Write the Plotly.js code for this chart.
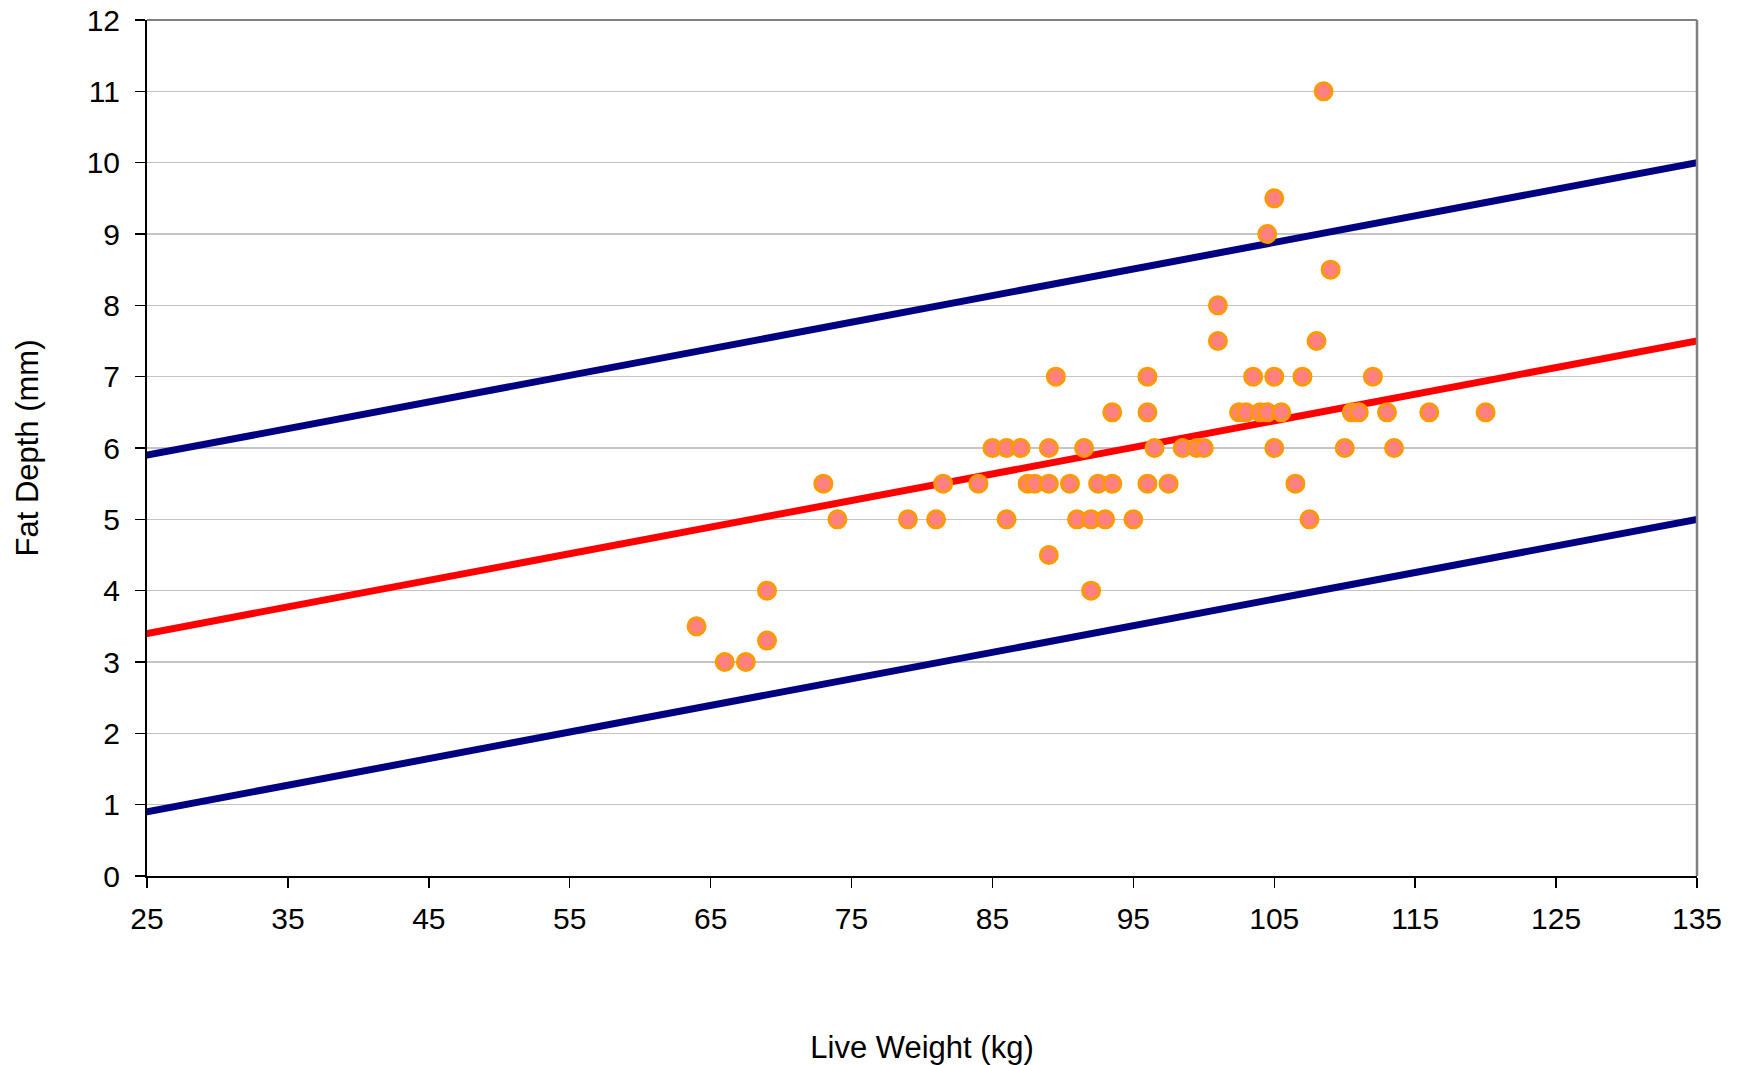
<!DOCTYPE html>
<html>
<head>
<meta charset="utf-8">
<script src="https://cdn.plot.ly/plotly-3.0.1.min.js"></script>
<style>
  html, body { margin: 0; padding: 0; background: #ffffff; }
  #chart { width: 1740px; height: 1065px; }
  .scatterlayer .js-line { stroke-linecap: round; }
</style>
</head>
<body>
<div id="chart"></div>
<script>
// Observed data: live weight (kg) vs fat depth (mm)
const liveWeight = [64, 66, 67.5, 69, 69, 73, 74, 79, 81, 81.5, 84, 85, 86, 87, 86, 87.5, 88, 89, 89, 89,
  89.5, 90.5, 91, 91.5, 92, 92, 92.5, 93, 93.5, 93.5, 95, 96, 96, 96, 96.5, 97.5, 98.5, 99.5, 100,
  101, 101, 102.5, 103, 103.5, 104, 104.5, 104.5, 105, 105, 105, 105.5, 106.5, 107, 107.5, 108,
  108.5, 109, 110, 110.5, 111, 112, 113, 113.5, 116, 120];
const fatDepth = [3.5, 3, 3, 4, 3.3, 5.5, 5, 5, 5, 5.5, 5.5, 6, 6, 6, 5, 5.5, 5.5, 6, 5.5, 4.5,
  7, 5.5, 5, 6, 5, 4, 5.5, 5, 6.5, 5.5, 5, 7, 6.5, 5.5, 6, 5.5, 6, 6, 6,
  8, 7.5, 6.5, 6.5, 7, 6.5, 6.5, 9, 9.5, 7, 6, 6.5, 5.5, 7, 5, 7.5,
  11, 8.5, 6, 6.5, 6.5, 7, 6.5, 6, 6.5, 6.5];

// Reference lines (end points)
const lineWeight = [25, 135];
const fitLine = [3.4, 7.5];
const upperLine = [5.9, 10.0];
const lowerLine = [0.9, 5.0];

const font = 'Liberation Sans, Arial, sans-serif';

const traces = [
  { x: lineWeight, y: upperLine, mode: 'lines', line: { color: '#000080', width: 7 }, cliponaxis: false, hoverinfo: 'skip' },
  { x: lineWeight, y: lowerLine, mode: 'lines', line: { color: '#000080', width: 7 }, cliponaxis: false, hoverinfo: 'skip' },
  { x: lineWeight, y: fitLine, mode: 'lines', line: { color: '#FF0000', width: 7 }, cliponaxis: false, hoverinfo: 'skip' },
  { x: liveWeight, y: fatDepth, mode: 'markers', cliponaxis: false,
    marker: { size: 17, color: '#FF8080', line: { color: '#FF9900', width: 3 } } }
];

const layout = {
  width: 1740, height: 1065,
  margin: { l: 147, r: 43, t: 20, b: 189 },
  paper_bgcolor: '#ffffff', plot_bgcolor: '#ffffff',
  showlegend: false,
  font: { family: font, color: '#000000', size: 30 },
  xaxis: {
    range: [25, 135], tick0: 25, dtick: 10, tickmode: 'linear',
    showgrid: false, zeroline: false,
    showline: true, linecolor: '#000000', linewidth: 2,
    ticks: 'outside', ticklen: 10, tickwidth: 1.5, tickcolor: '#000000',
    ticklabelstandoff: 5,
    tickfont: { family: font, size: 30, color: '#000000' },
    title: { text: 'Live Weight (kg)', font: { family: font, size: 31, color: '#000000' }, standoff: 110 },
    automargin: false
  },
  yaxis: {
    range: [0, 12], tick0: 0, dtick: 1, tickmode: 'linear',
    showgrid: true, gridcolor: '#C4C4C4', gridwidth: 1.5, zeroline: false,
    showline: true, linecolor: '#000000', linewidth: 2,
    ticks: 'outside', ticklen: 10, tickwidth: 1.5, tickcolor: '#000000',
    ticklabelstandoff: 9,
    tickfont: { family: font, size: 30, color: '#000000' },
    title: { text: 'Fat Depth (mm)', font: { family: font, size: 31, color: '#000000' }, standoff: 39 },
    automargin: false
  },
  shapes: [
    { type: 'line', xref: 'paper', yref: 'paper', x0: 0, x1: 1, y0: 1, y1: 1, line: { color: '#808080', width: 2 } },
    { type: 'line', xref: 'paper', yref: 'paper', x0: 1, x1: 1, y0: 0, y1: 1, line: { color: '#808080', width: 2.5 } }
  ]
};

Plotly.newPlot('chart', traces, layout, { displayModeBar: false, staticPlot: true });
</script>
</body>
</html>
